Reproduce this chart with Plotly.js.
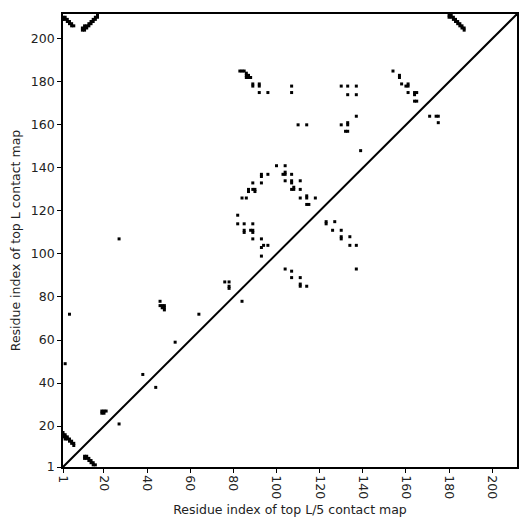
<!DOCTYPE html>
<html>
<head>
<meta charset="utf-8">
<script src="https://cdn.plot.ly/plotly-3.0.1.min.js"></script>
<style>html,body{margin:0;padding:0;background:#fff;}#chart{width:531px;height:531px;}</style>
</head>
<body>
<div id="chart"></div>
<script>
// Contact positions (residue i on x, residue j on y)
const contactX = [
  1,2,2,3,3,4,4,5,5,6,1,
  10,10,11,11,12,12,13,13,14,14,15,15,16,16,17,17,11,
  180,181,180,181,182,182,183,183,184,184,185,185,186,186,187,187,
  1,1,2,2,3,3,4,4,5,5,6,6,1,2,
  11,11,12,12,13,13,14,14,15,15,16,
  19,20,21,20,19,27,2,4,27,46,46,47,48,47,48,48,53,38,44,64,
  76,78,78,78,84,93,94,96,93,104,107,107,111,111,111,114,134,137,137,
  100,104,93,93,96,103,104,104,107,89,93,104,107,107,111,
  87,87,89,90,90,107,108,108,111,84,86,111,114,114,118,114,115,
  82,82,85,89,85,85,88,89,89,89,93,123,123,127,126,130,130,130,134,139,
  83,84,85,86,86,87,86,87,88,89,89,92,92,92,96,107,107,
  130,133,137,133,137,137,110,114,130,133,133,132,133,
  154,157,157,158,160,161,161,161,164,165,164,164,165,171,174,175,175
];
const contactY = [
  210,210,209,209,208,208,207,207,206,206,209,
  204,205,204,205,205,206,206,207,207,208,208,209,209,210,210,211,206,
  211,211,210,210,210,209,209,208,208,207,207,206,206,205,205,204,
  17,16,16,15,15,14,14,13,13,12,12,11,15,14,
  6,5,6,5,5,4,4,3,3,2,2,
  27,27,27,26,26,21,49,72,107,78,76,76,76,75,75,74,59,44,38,72,
  87,87,84,85,78,103,104,104,99,93,92,89,89,85,86,85,104,104,93,
  141,141,136,137,137,137,137,138,137,133,133,134,133,134,134,
  130,129,130,130,129,130,130,131,130,126,126,126,126,127,126,123,123,
  118,114,114,114,111,110,111,111,110,107,107,114,115,115,111,111,107,108,108,148,
  185,185,185,184,183,183,182,182,182,178,179,178,179,175,175,178,175,
  178,178,178,174,174,164,160,160,160,160,161,157,157,
  185,183,182,179,178,178,179,175,175,175,174,171,171,164,164,164,161
];
const seqLength = 211.5;
const diagX = [1, seqLength];
const diagY = [1, seqLength];
const tickVals = [1,20,40,60,80,100,120,140,160,180,200];
const tickText = ['1','20','40','60','80','100','120','140','160','180','200'];

const traces = [
  {x: diagX, y: diagY, mode: 'lines', type: 'scatter',
   line: {color: '#000', width: 2}, hoverinfo: 'skip', showlegend: false},
  {x: contactX, y: contactY, mode: 'markers', type: 'scatter',
   marker: {symbol: 'square', size: 3, color: '#000', line: {width: 0}},
   showlegend: false}
];

const axisCommon = {
  range: [1, seqLength], showgrid: false, zeroline: false,
  showline: true, mirror: true, linecolor: '#000', linewidth: 1.8,
  ticks: 'outside', ticklen: 4, tickwidth: 1, tickcolor: '#000',
  tickvals: tickVals, ticktext: tickText,
  tickfont: {family: 'DejaVu Sans', size: 12.5, color: '#222'},
  automargin: false
};

const layout = {
  width: 531, height: 531,
  margin: {l: 63, r: 14, t: 14, b: 64},
  paper_bgcolor: '#fff', plot_bgcolor: '#fff',
  xaxis: Object.assign({}, axisCommon, {
    tickangle: 90,
    title: {text: 'Residue index of top L/5 contact map', standoff: 7,
            font: {family: 'DejaVu Sans', size: 12.5, color: '#222'}}
  }),
  yaxis: Object.assign({}, axisCommon, {
    title: {text: 'Residue index of top L contact map', standoff: 7,
            font: {family: 'DejaVu Sans', size: 12.5, color: '#222'}}
  })
};

Plotly.newPlot('chart', traces, layout, {displayModeBar: false, staticPlot: true});
</script>
</body>
</html>
